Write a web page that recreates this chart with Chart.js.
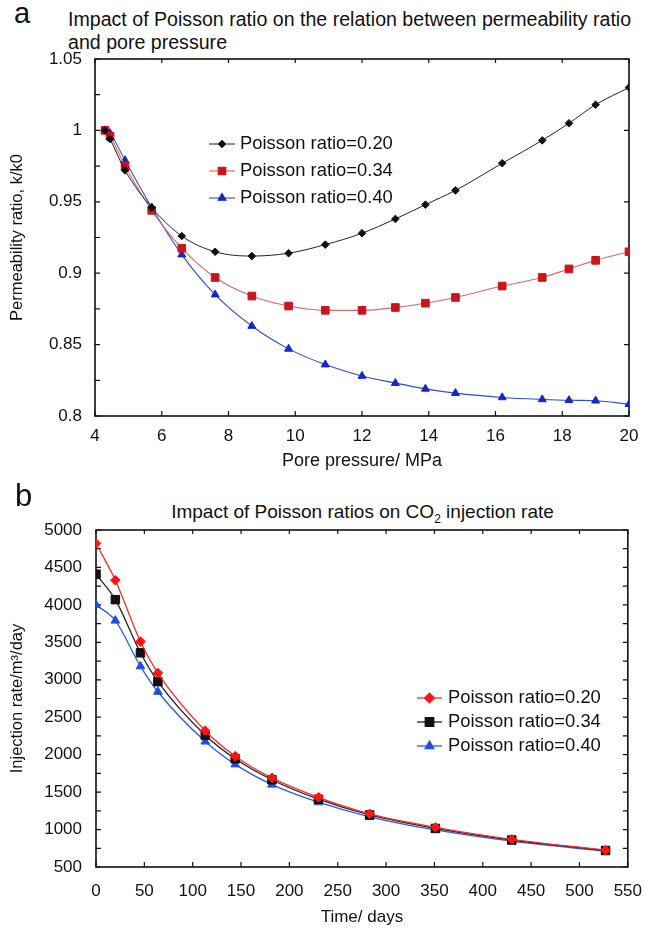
<!DOCTYPE html>
<html>
<head>
<meta charset="utf-8">
<script src="https://cdn.jsdelivr.net/npm/chart.js@4.4.1/dist/chart.umd.min.js"></script>
<style>
  body { margin: 0; background: #fff; font-family: "Liberation Sans", Arial, sans-serif; }
  #wrap { position: relative; width: 656px; height: 930px; }
  canvas { position: absolute; left: 0; }
  .txt { position: absolute; color: #111; white-space: nowrap; }
</style>
</head>
<body>
<div id="wrap">
  <div class="txt" style="left:14px;top:-3px;font-size:29px">a</div>
  <div class="txt" style="left:68px;top:8px;font-size:19.6px;line-height:23px">Impact of Poisson ratio on the relation between permeability ratio<br>and pore pressure</div>
  <canvas id="permChart" width="656" height="480" style="top:0"></canvas>
  <div class="txt" style="left:15px;top:478px;font-size:31px">b</div>
  <div class="txt" style="left:96px;width:533px;top:501px;text-align:center;font-size:19px">Impact of Poisson ratios on CO<sub style="font-size:12px">2</sub> injection rate</div>
  <canvas id="rateChart" width="656" height="450" style="top:480px"></canvas>
</div>
<script>
// panel a: permeability ratio vs pore pressure
const pressure = [4.3, 4.45, 4.9, 5.7, 6.6, 7.6, 8.7, 9.8, 10.9, 12, 13, 13.9, 14.8, 16.2, 17.4, 18.2, 19, 20];
const perm020 = [1.0, 0.994, 0.972, 0.946, 0.926, 0.915, 0.912, 0.914, 0.920, 0.928, 0.938, 0.948, 0.958, 0.977, 0.993, 1.005, 1.018, 1.030];
const perm034 = [1.0, 0.996, 0.975, 0.944, 0.9175, 0.897, 0.884, 0.877, 0.874, 0.874, 0.876, 0.879, 0.883, 0.891, 0.897, 0.903, 0.909, 0.915];
const perm040 = [1.0, 0.998, 0.979, 0.946, 0.913, 0.885, 0.863, 0.847, 0.836, 0.828, 0.823, 0.819, 0.816, 0.813, 0.8116, 0.811, 0.8107, 0.8083];

// panel b: injection rate vs time
const days = [0, 20, 46, 64, 113, 144, 182, 230, 283, 351, 430, 527];
const rate020 = [4820, 4330, 3510, 3090, 2320, 1980, 1690, 1430, 1210, 1030, 870, 725];
const rate034 = [4410, 4070, 3360, 2975, 2260, 1945, 1665, 1405, 1195, 1015, 860, 720];
const rate040 = [4000, 3790, 3180, 2840, 2175, 1870, 1600, 1365, 1170, 995, 845, 710];

const labels = ["Poisson ratio=0.20", "Poisson ratio=0.34", "Poisson ratio=0.40"];

const INK = "#111";
const FONT = "'Liberation Sans', Arial, sans-serif";

// closed frame with inward tick marks
const boxTicks = {
  id: "boxTicks",
  beforeDatasetsDraw(chart, args, o) {
    const { ctx, chartArea: a, scales: { x, y } } = chart;
    ctx.save();
    ctx.strokeStyle = INK;
    ctx.lineWidth = 1.6;
    ctx.strokeRect(a.left, a.top, a.right - a.left, a.bottom - a.top);
    ctx.lineWidth = 1.2;
    ctx.beginPath();
    x.ticks.forEach((t) => {
      const px = x.getPixelForValue(t.value);
      ctx.moveTo(px, a.bottom); ctx.lineTo(px, a.bottom - 5);
      ctx.moveTo(px, a.top); ctx.lineTo(px, a.top + 4);
    });
    const vals = y.ticks.map((t) => t.value);
    vals.forEach((v, i) => {
      const py = y.getPixelForValue(v);
      ctx.moveTo(a.left, py); ctx.lineTo(a.left + 5, py);
      ctx.moveTo(a.right, py); ctx.lineTo(a.right - 5, py);
      if (i > 0) {
        const pm = y.getPixelForValue((v + vals[i - 1]) / 2);
        ctx.moveTo(a.left, pm); ctx.lineTo(a.left + 5, pm);
        if (o.rightMinor) { ctx.moveTo(a.right, pm); ctx.lineTo(a.right - 5, pm); }
      }
    });
    ctx.stroke();
    ctx.restore();
  },
};

// legend drawn inside the plot
const boxLegend = {
  id: "boxLegend",
  afterDatasetsDraw(chart, args, o) {
    const ctx = chart.ctx;
    chart.data.datasets.forEach((ds, i) => {
      const yy = o.y + i * o.dy;
      ctx.save();
      ctx.strokeStyle = ds.borderColor;
      ctx.lineWidth = ds.borderWidth;
      ctx.beginPath();
      ctx.moveTo(o.x, yy);
      ctx.lineTo(o.x + o.len, yy);
      ctx.stroke();
      ctx.fillStyle = ds.pointBackgroundColor;
      ctx.strokeStyle = ds.pointBorderColor;
      Chart.helpers.drawPoint(ctx, { pointStyle: ds.pointStyle, radius: ds.pointRadius, borderWidth: 1, rotation: 0 }, o.x + o.len / 2, yy);
      ctx.fillStyle = INK;
      ctx.font = o.font;
      ctx.textBaseline = "middle";
      ctx.fillText(ds.label, o.x + o.len + o.gap, yy);
      ctx.restore();
    });
  },
};

function series(label, xs, ys, mark, line, style, r, bw) {
  return {
    label,
    data: xs.map((x, i) => ({ x, y: ys[i] })),
    borderColor: line,
    backgroundColor: mark,
    pointBackgroundColor: mark,
    pointBorderColor: mark,
    pointBorderWidth: 1,
    pointStyle: style,
    pointRadius: r,
    borderWidth: bw,
    cubicInterpolationMode: "monotone",
  };
}

function axes(o) {
  const tickFont = { family: FONT, size: 17 };
  return {
    x: {
      type: "linear", min: o.xMin, max: o.xMax,
      ticks: { stepSize: o.xStep, padding: o.xPad, color: INK, font: tickFont, maxRotation: 0, autoSkip: false },
      grid: { display: false, drawTicks: false },
      border: { display: false },
      title: { display: true, text: o.xTitle, color: INK, font: { family: FONT, size: o.xTitleSize }, padding: { top: 0, bottom: o.xTitlePad } },
      afterFit: (s) => { s.height = o.xHeight; },
    },
    y: {
      min: o.yMin, max: o.yMax,
      ticks: { stepSize: o.yStep, padding: o.yPad, color: INK, font: tickFont, callback: o.yFmt },
      grid: { display: false, drawTicks: false },
      border: { display: false },
      title: { display: true, text: o.yTitle, color: INK, font: { family: FONT, size: 16.5 }, padding: { top: 8, bottom: 0 } },
      afterFit: (s) => { s.width = o.yWidth; },
    },
  };
}

new Chart(document.getElementById("permChart"), {
  type: "line",
  data: {
    datasets: [
      series(labels[0], pressure, perm020, "#111", "#222", "rectRot", 3.8, 1),
      series(labels[1], pressure, perm034, "#c8161c", "#d8696a", "rect", 5.4, 1.1),
      series(labels[2], pressure, perm040, "#1426c8", "#2f4ad6", "triangle", 4.6, 1.1),
    ],
  },
  options: {
    responsive: false,
    animation: false,
    layout: { padding: { left: 0, right: 27, top: 59, bottom: 0 } },
    scales: axes({
      xMin: 4, xMax: 20, xStep: 2, xPad: 10, xTitle: "Pore pressure/ MPa", xTitleSize: 18, xTitlePad: 8, xHeight: 64,
      yMin: 0.8, yMax: 1.05, yStep: 0.05, yPad: 13, yTitle: "Permeability ratio, k/k0", yWidth: 95,
      yFmt: (v) => String(+v.toFixed(2)),
    }),
    plugins: {
      legend: { display: false },
      tooltip: { enabled: false },
      boxTicks: { rightMinor: false },
      boxLegend: { x: 209, y: 144, dy: 27, len: 26, gap: 5, font: "18.4px " + FONT },
    },
  },
  plugins: [boxTicks, boxLegend],
});

new Chart(document.getElementById("rateChart"), {
  type: "line",
  data: {
    datasets: [
      series(labels[0], days, rate020, "#ff1414", "#ff2a2a", "rectRot", 4.8, 1.3),
      series(labels[1], days, rate034, "#111", "#222", "rect", 6, 1.3),
      series(labels[2], days, rate040, "#1f4fe0", "#2d5be6", "triangle", 5, 1.3),
    ],
  },
  options: {
    responsive: false,
    animation: false,
    layout: { padding: { left: 0, right: 27, top: 50, bottom: 0 } },
    scales: axes({
      xMin: 0, xMax: 550, xStep: 50, xPad: 14, xTitle: "Time/ days", xTitleSize: 17, xTitlePad: 2, xHeight: 63,
      yMin: 500, yMax: 5000, yStep: 500, yPad: 14, yTitle: "Injection rate/m³/day", yWidth: 96,
      yFmt: (v) => String(v),
    }),
    plugins: {
      legend: { display: false },
      tooltip: { enabled: false },
      boxTicks: { rightMinor: true },
      boxLegend: { x: 417, y: 218, dy: 24, len: 25, gap: 6, font: "18.4px " + FONT },
    },
  },
  plugins: [boxTicks, boxLegend],
});
</script>
</body>
</html>
